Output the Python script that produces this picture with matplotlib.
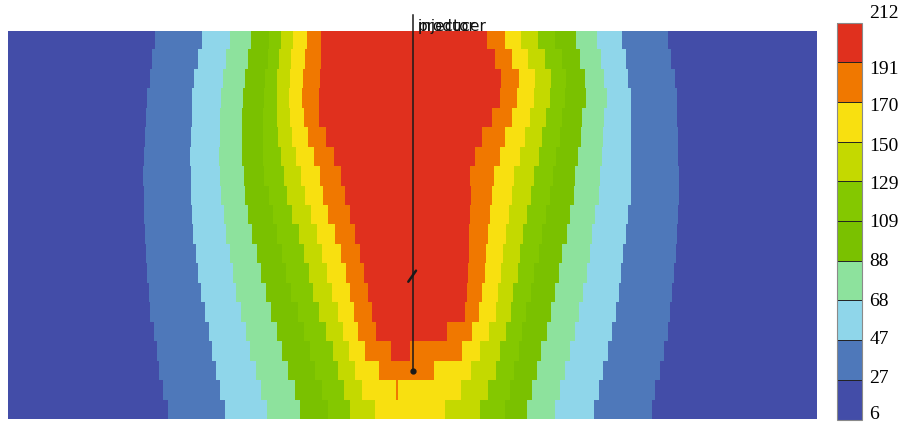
import numpy as np
import matplotlib
matplotlib.use("Agg")
import matplotlib.pyplot as plt
from matplotlib.colors import ListedColormap, BoundaryNorm
from matplotlib.transforms import ScaledTranslation

# ---- colour levels (colorbar) ----
levels = [6, 27, 47, 68, 88, 109, 129, 150, 170, 191, 212]
level_colors = ["#434DA8", "#4E78BA", "#8FD6EA", "#8DE29D", "#7AC100",
                "#84C800", "#C4D900", "#F8E010", "#F07800", "#E0301E"]

# ---- field: per-row x positions where each level is entered (left side)
# and left (right side); 20 grid rows, top to bottom ----
left_27 = [155.1, 152.3, 149.8, 147.7, 146.3, 144.9, 144.2, 143.5, 144.2, 144.2,
           144.9, 146.3, 147.0, 148.8, 150.5, 154.0, 156.8, 159.3, 162.8, 168.1]
left_47 = [202.4, 197.9, 194.4, 192.6, 191.9, 190.9, 190.2, 190.9, 190.9, 191.9,
           193.7, 196.1, 197.9, 201.4, 204.9, 209.1, 211.9, 216.5, 220.7, 224.9]
left_68 = [230.5, 225.9, 223.5, 221.4, 220.0, 220.0, 219.3, 220.0, 221.4, 224.2,
           225.9, 230.5, 232.9, 236.5, 241.7, 245.9, 250.5, 256.5, 261.7, 267.0]
left_88 = [251.5, 248.0, 245.2, 243.5, 242.4, 242.4, 242.4, 244.2, 245.2, 248.7,
           252.2, 256.8, 261.0, 266.3, 271.5, 277.5, 282.1, 288.0, 295.0, 300.3]
left_109 = [269.1, 268.0, 265.6, 264.5, 262.8, 262.8, 263.5, 264.5, 269.1, 273.3,
            276.8, 282.1, 286.6, 291.5, 297.8, 304.2, 310.1, 315.4, 322.4, 328.4]
left_129 = [281.7, 279.6, 277.5, 276.8, 277.5, 278.5, 281.0, 283.8, 287.3, 292.6,
            298.9, 304.2, 309.1, 313.6, 319.6, 325.9, 332.9, 338.2, 344.1, 350.5]
left_150 = [293.3, 290.8, 290.1, 289.1, 290.1, 292.6, 296.1, 301.3, 305.6, 311.2,
            317.1, 322.4, 327.7, 332.2, 338.2, 343.4, 349.4, 355.0, 362.0, 375.0]
left_170 = [307.7, 304.9, 303.1, 302.4, 304.2, 308.4, 314.3, 319.9, 323.1, 328.7,
            335.4, 341.7, 346.2, 349.8, 354.0, 358.3, 365.0, 379.0, 395.8, 410.0]
left_191 = [321.7, 321.7, 319.9, 318.9, 319.6, 326.6, 334.0, 341.0, 345.2, 349.8,
            355.7, 360.3, 364.5, 368.7, 372.2, 376.7, 391.7, 406.0, 397.2, 410.0]

right_191 = [487.5, 495.0, 501.5, 500.0, 492.6, 482.0, 475.0, 470.4, 471.5, 470.4,
             469.7, 469.0, 468.7, 466.9, 465.5, 447.3, 410.0, 406.0, 397.2, 410.0]
right_170 = [505.3, 511.8, 519.3, 517.3, 511.8, 504.8, 500.6, 494.3, 492.5, 490.0,
             488.3, 486.5, 485.5, 482.0, 479.5, 472.7, 462.5, 434.0, 398.6, 410.0]
right_150 = [521.2, 528.5, 535.0, 534.5, 530.0, 524.8, 519.9, 514.6, 511.8, 509.0,
             506.5, 503.7, 501.3, 497.8, 496.0, 489.3, 480.0, 471.7, 461.7, 445.2]
right_129 = [537.9, 545.0, 551.0, 550.0, 546.5, 542.7, 539.2, 534.6, 531.1, 526.9,
             523.0, 519.9, 518.1, 513.6, 511.1, 506.7, 500.0, 496.7, 488.3, 480.0]
right_109 = [555.0, 561.8, 566.5, 565.5, 562.7, 559.9, 556.7, 553.2, 550.4, 546.2,
             542.7, 539.2, 534.6, 531.1, 525.8, 522.3, 518.8, 514.6, 510.0, 504.8]
right_88 = [576.3, 580.2, 584.8, 586.0, 582.6, 581.2, 578.4, 575.6, 574.2, 570.7,
            567.2, 562.7, 559.2, 555.6, 551.1, 546.9, 541.6, 537.0, 532.1, 526.9]
right_68 = [597.7, 601.2, 604.7, 607.0, 604.7, 603.0, 602.3, 600.2, 598.8, 595.3,
            592.5, 590.0, 587.2, 583.7, 579.5, 574.9, 570.7, 565.1, 560.2, 555.6]
right_47 = [622.3, 625.8, 628.2, 631.0, 631.0, 631.0, 631.0, 631.0, 631.0, 628.6,
            626.5, 623.3, 621.2, 618.8, 616.0, 611.8, 608.2, 603.7, 599.5, 594.2]
right_27 = [667.9, 671.4, 674.9, 677.0, 677.3, 678.4, 678.4, 679.1, 679.1, 678.4,
            677.7, 676.0, 673.8, 672.4, 670.7, 667.9, 664.4, 659.8, 654.9, 652.1]

# domain of the section (x) and number of grid rows (depth)
x_domain = [8.0, 817.0]
n_rows = 20

# wells
well_x = 413.0
well_top = -0.8          # in rows (above the section)
producer_depth = 17.5    # in rows
injector_seg_x = [408.3, 416.0]
injector_seg_y = [12.92, 12.35]
well_names = ["injector", "producer"]

# ---- build the blocky level field ----
lefts = np.array([left_27, left_47, left_68, left_88, left_109,
                  left_129, left_150, left_170, left_191])
rights = np.array([right_27, right_47, right_68, right_88, right_109,
                   right_129, right_150, right_170, right_191])
xc = np.arange(x_domain[0] + 0.25, x_domain[1], 0.5)
mids = [(levels[i] + levels[i + 1]) / 2 for i in range(len(levels) - 1)]
field = np.zeros((n_rows, xc.size))
for r in range(n_rows):
    nl = (lefts[:, r][:, None] <= xc[None, :]).sum(axis=0)
    nr = (rights[:, r][:, None] > xc[None, :]).sum(axis=0)
    idx = np.minimum(nl, nr)
    field[r] = np.array(mids)[idx]

cmap = ListedColormap(level_colors)
norm = BoundaryNorm(levels, cmap.N)

fig = plt.figure(figsize=(9.04, 4.22), dpi=100)
ax = fig.add_axes([8 / 904, 2.7 / 422, 809 / 904, 388.6 / 422])
im = ax.imshow(field, cmap=cmap, norm=norm, aspect="auto",
               interpolation="nearest",
               extent=[x_domain[0], x_domain[1], n_rows, 0])
ax.set_xlim(*x_domain)
ax.set_ylim(n_rows, 0)
ax.axis("off")

# well trajectory
ax.plot([well_x, well_x], [well_top, producer_depth], color="#1a1a1a",
        lw=1.1, clip_on=False, zorder=5)
ax.plot([well_x], [producer_depth], "o", color="#1a1a1a", ms=3.5, zorder=6)
ax.plot(injector_seg_x, injector_seg_y, color="#1a1a1a", lw=1.8,
        solid_capstyle="round", zorder=6)
for name in well_names:
    ax.text(well_x + 4.5, 0, name, fontsize=11, color="#111111",
            ha="left", va="baseline", clip_on=False, zorder=7)

# colorbar
cax = fig.add_axes([837.5 / 904, 2.5 / 422, 24.8 / 904, 397 / 422])
cb = fig.colorbar(im, cax=cax, ticks=levels, drawedges=True)
cb.outline.set_edgecolor("#8a8a8a")
cb.outline.set_linewidth(0.8)
cb.dividers.set_color("#222222")
cb.dividers.set_linewidth(0.7)
cax.tick_params(length=0, pad=5, labelsize=14)
# vertical nudges of the tick labels (pixels, positive = downward)
label_nudge_px = [-7.0, -3.3, -2.6, -0.9, -0.7, -0.5, 1.2, 2.9, 2.6, 5.3, -11.5]
for lab, dy in zip(cax.get_yticklabels(), label_nudge_px):
    lab.set_fontfamily("Liberation Serif")
    lab.set_transform(lab.get_transform() +
                      ScaledTranslation(0, -dy / 100, fig.dpi_scale_trans))

fig.savefig("out.png", dpi=100)
